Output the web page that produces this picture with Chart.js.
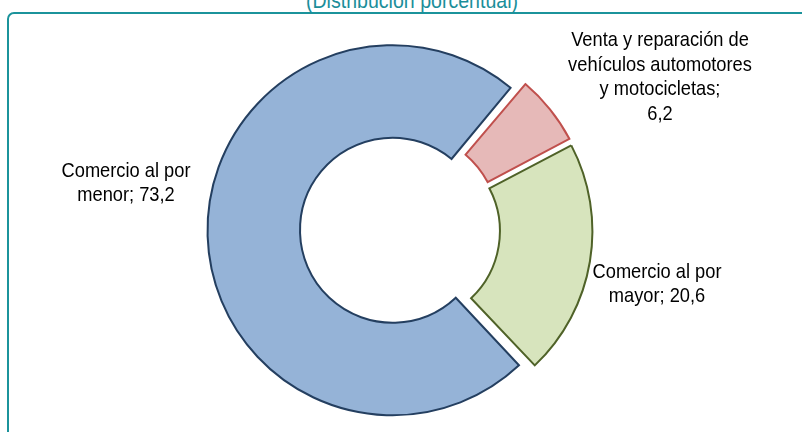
<!DOCTYPE html>
<html>
<head>
<meta charset="utf-8">
<script src="https://cdn.jsdelivr.net/npm/chart.js@4"></script>
<style>
  html, body { margin: 0; padding: 0; background: #fff; }
  #wrap { position: relative; width: 802px; height: 432px; overflow: hidden; }
  #frame {
    position: absolute; left: 7px; top: 12px; width: 830px; height: 460px;
    border: 2px solid #1b939b; border-radius: 7px; box-sizing: border-box;
  }
  #title {
    position: absolute; left: 0; width: 824px; top: -10px; text-align: center;
    font-family: "Liberation Sans", Arial, sans-serif;
    font-size: 22.5px; line-height: 22px; color: #1b8e9a;
    transform: scaleX(0.87); transform-origin: 412px 0;
  }
  #chart { position: absolute; left: 0; top: 0; }
</style>
</head>
<body>
<div id="wrap">
  <div id="frame"></div>
  <div id="title">(Distribución porcentual)</div>
  <canvas id="chart" width="802" height="432"></canvas>
</div>
<script>
// datos
const categorias = [
  "Comercio al por menor",
  "Venta y reparación de vehículos automotores y motocicletas",
  "Comercio al por mayor"
];
const valores = [73.2, 6.2, 20.6];

// etiquetas tal como salen en el grafico (lineas)
const etiquetas = [
  ["Comercio al por", "menor; 73,2"],
  ["Venta y reparación de", "vehículos automotores", "y motocicletas;", "6,2"],
  ["Comercio al por", "mayor; 20,6"]
];
// posicion de cada etiqueta respecto al centro del anillo
const etiquetaDx = [-274, 260, 257];
const etiquetaDy = [-47, -153, 54];

const rellenos = ["#95b3d7", "#e6b9b8", "#d7e4bd"];
const bordes = ["#243f60", "#c0504d", "#4f6228"];

// chart.js agranda los arcos con offset, aqui se quita ese extra
const sinCrecer = {
  id: "sinCrecer",
  afterDatasetUpdate(chart, args) {
    args.meta.data.forEach((arc) => {
      const off = (arc.options.offset || 0) / 4;
      const fix = 1 - Math.sin(Math.min(Math.PI, arc.circumference));
      arc.outerRadius -= off * fix;
      arc.innerRadius -= off * fix;
    });
  }
};

// no hay fuente estrecha instalada: se comprime la letra a lo ancho
const estrecho = 0.87;

const textos = {
  id: "textos",
  afterDatasetsDraw(chart) {
    const ctx = chart.ctx;
    const arc0 = chart.getDatasetMeta(0).data[0];
    const cx = arc0.x, cy = arc0.y;
    const lh = 24.5;
    ctx.save();
    ctx.fillStyle = "#000";
    ctx.font = '21px "Liberation Sans", Arial, sans-serif';
    ctx.textAlign = "center";
    ctx.textBaseline = "middle";
    etiquetas.forEach((lineas, i) => {
      const x = cx + etiquetaDx[i];
      const y0 = cy + etiquetaDy[i] - (lineas.length - 1) * lh / 2;
      lineas.forEach((t, j) => {
        ctx.save();
        ctx.translate(x, y0 + j * lh);
        ctx.scale(estrecho, 1);
        ctx.fillText(t, 0, 0);
        ctx.restore();
      });
    });
    ctx.restore();
  }
};

new Chart(document.getElementById("chart"), {
  type: "doughnut",
  data: {
    labels: categorias,
    datasets: [{
      data: valores,
      backgroundColor: rellenos,
      borderColor: bordes,
      borderWidth: 2,
      borderJoinStyle: "miter",
      offset: 30,
      hoverOffset: 0,
      radius: 185,
      cutout: "50%"
    }]
  },
  options: {
    responsive: false,
    animation: false,
    rotation: 136.5,
    layout: { padding: { top: 28, bottom: 0, left: 0, right: 2 } },
    plugins: {
      legend: { display: false },
      tooltip: { enabled: false }
    }
  },
  plugins: [sinCrecer, textos]
});
</script>
</body>
</html>
